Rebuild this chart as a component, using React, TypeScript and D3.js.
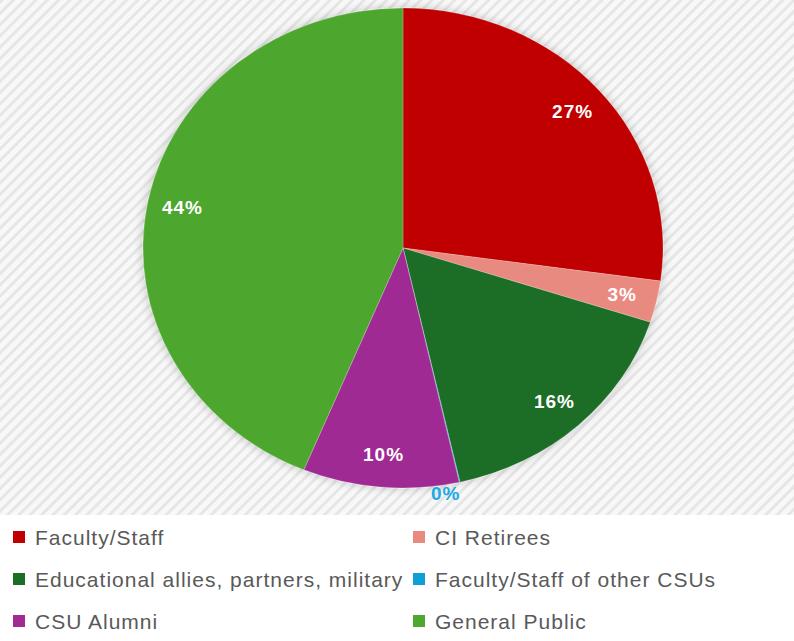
import React from "react";
import * as d3 from "d3";

const categories = [
  "Faculty/Staff",
  "CI Retirees",
  "Educational allies, partners, military",
  "Faculty/Staff of other CSUs",
  "CSU Alumni",
  "General Public",
];
const values = [27.2, 2.8, 16.48, 0.05, 9.7, 43.77];
const colors = ["#C00000", "#E98A80", "#1B6E27", "#0F9ED5", "#A02B93", "#4EA72E"];

const W = 794;
const H = 641;
const cx = 403;
const cy = 248;
const R = 240;
const sx = 260 / 240;

export default function App() {
  const data = categories.map((c, i) => ({ c, v: values[i], col: colors[i] }));
  const total = d3.sum(values);
  const pie = d3.pie<any>().value((d) => d.v).sort(null);
  const arcs = pie(data);
  const arc = d3.arc<any>().innerRadius(0).outerRadius(R);

  const labelPos = (a: any, r: number, shift = 0) => {
    const m = (a.startAngle + a.endAngle) / 2 + shift;
    return [Math.sin(m) * r * sx, -Math.cos(m) * r];
  };

  const legendX = [13, 413];
  const legendY = [537, 579, 621];

  return (
    <svg
      width={W}
      height={H}
      style={{ position: "absolute", left: 0, top: 0, display: "block" }}
      fontFamily="'Liberation Sans', Arial, sans-serif"
    >
      <defs>
        <pattern id="stripes" width="8" height="8" patternUnits="userSpaceOnUse" patternTransform="rotate(45)">
          <rect width="8" height="8" fill="#f8f8f8" />
          <rect width="3" height="8" fill="#e6e6e6" />
        </pattern>
        <filter id="glow" x="-10%" y="-10%" width="120%" height="120%">
          <feGaussianBlur in="SourceAlpha" stdDeviation="5" />
          <feComponentTransfer>
            <feFuncA type="linear" slope="0.22" />
          </feComponentTransfer>
          <feMerge>
            <feMergeNode />
            <feMergeNode in="SourceGraphic" />
          </feMerge>
        </filter>
      </defs>
      <rect width={W} height={H} fill="url(#stripes)" />
      <rect x={0} y={515} width={W} height={H - 515} fill="#ffffff" />
      <g transform={`translate(${cx},${cy}) scale(${sx},1)`} filter="url(#glow)">
        {arcs.map((a, i) => (
          <path key={i} d={arc(a) || ""} fill={a.data.col} stroke="#ffffff" strokeOpacity={0.4} strokeWidth={0.5} />
        ))}
      </g>
      <g transform={`translate(${cx},${cy})`}>
        {arcs.map((a, i) => {
          const pct = Math.round((a.data.v / total) * 100);
          const outside = a.data.v / total < 0.01;
          const [x, y] = outside ? labelPos(a, R * 1.035, 0.06) : labelPos(a, R * 0.865);
          return (
            <text
              key={i}
              x={x}
              y={y}
              textAnchor="middle"
              dominantBaseline="central"
              fontSize={19}
              fontWeight="bold"
              letterSpacing={1}
              fill={outside ? "#20A8E4" : "#ffffff"}
            >
              {pct}%
            </text>
          );
        })}
      </g>
      <g>
        {data.map((d, i) => {
          const col = i % 2;
          const row = Math.floor(i / 2);
          const x = legendX[col];
          const y = legendY[row];
          return (
            <g key={i}>
              <rect x={x} y={y - 6} width={12} height={12} fill={d.col} />
              <text
                x={x + 22}
                y={y}
                dominantBaseline="central"
                fontSize={21}
                letterSpacing={1}
                fill="#595959"
              >
                {d.c}
              </text>
            </g>
          );
        })}
      </g>
    </svg>
  );
}
